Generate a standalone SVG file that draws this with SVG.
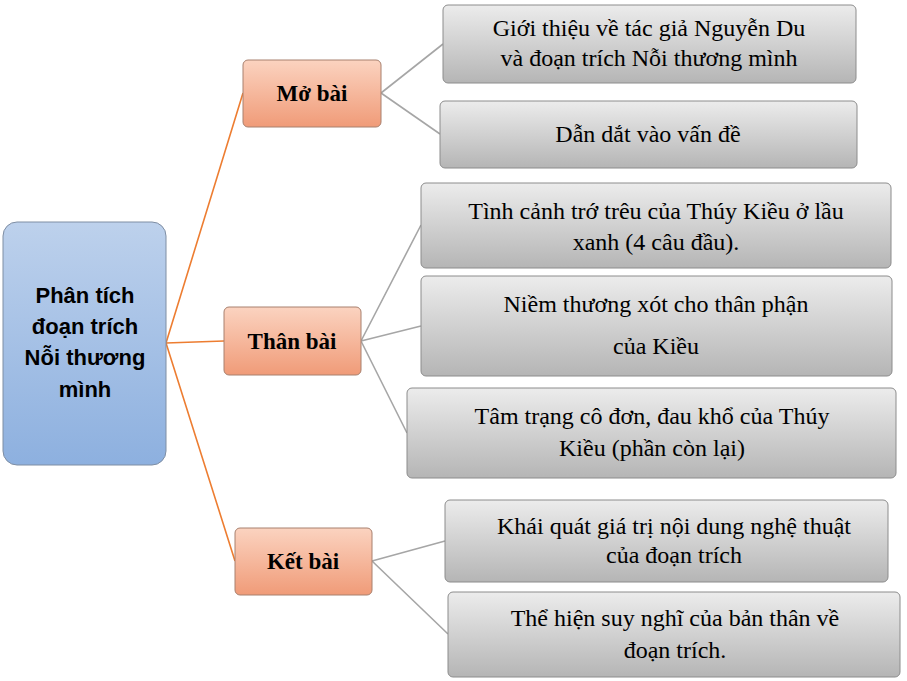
<svg xmlns="http://www.w3.org/2000/svg" width="907" height="681" viewBox="0 0 907 681">
<defs>
<linearGradient id="gb" x1="0" y1="0" x2="0" y2="1"><stop offset="0" stop-color="#bdd1ec"/><stop offset="1" stop-color="#8db0df"/></linearGradient>
<linearGradient id="go" x1="0" y1="0" x2="0" y2="1"><stop offset="0" stop-color="#fbd3c0"/><stop offset="1" stop-color="#f09b78"/></linearGradient>
<linearGradient id="gg" x1="0" y1="0" x2="0" y2="1"><stop offset="0" stop-color="#ececec"/><stop offset="1" stop-color="#b5b5b5"/></linearGradient>
</defs>
<style>
.root{fill:url(#gb);stroke:#7f8ea3;stroke-width:1}
.mid{fill:url(#go);stroke:#a8806e;stroke-width:1}
.leaf{fill:url(#gg);stroke:#8c8c8c;stroke-width:1}
.rt{font-family:"Liberation Sans",Arial,sans-serif;font-weight:bold;font-size:22px;fill:#000;text-anchor:middle}
.mt{font-family:"Liberation Serif","Times New Roman",serif;font-weight:bold;font-size:23px;fill:#000;text-anchor:middle}
.lt{font-family:"Liberation Serif","Times New Roman",serif;font-size:24px;fill:#000;text-anchor:middle}
.co{stroke:#ed7d31;stroke-width:1.6;fill:none}
.cg{stroke:#a6a6a6;stroke-width:1.6;fill:none}
</style>
<rect width="907" height="681" fill="#fff"/>
<g id="connectors">
<path class="co" d="M166 343 L243 93 M166 343 L224 341 M166 343 L235 561"/>
<path class="cg" d="M381 93 L443 44 M381 93 L440 134 M361 341 L421 225 M361 341 L421 326 M361 341 L407 433 M372 561 L445 541 M372 561 L448 634"/>
</g>
<g id="root"><rect class="root" x="3" y="222" width="163" height="243" rx="14"/>
<text class="rt" x="85" y="303">Phân tích</text><text class="rt" x="85" y="334">đoạn trích</text><text class="rt" x="85" y="365">Nỗi thương</text><text class="rt" x="85" y="397">mình</text></g>
<g id="mo"><rect class="mid" x="243" y="60" width="138" height="67" rx="5"/><text class="mt" x="312" y="101">Mở bài</text></g>
<g id="than"><rect class="mid" x="224" y="307" width="137" height="68" rx="5"/><text class="mt" x="292" y="349">Thân bài</text></g>
<g id="ket"><rect class="mid" x="235" y="528" width="137" height="67" rx="5"/><text class="mt" x="303" y="569">Kết bài</text></g>
<g id="l1"><rect class="leaf" x="443" y="5" width="413" height="78" rx="5"/><text class="lt" x="649" y="36">Giới thiệu về tác giả Nguyễn Du</text><text class="lt" x="649" y="66">và đoạn trích Nỗi thương mình</text></g>
<g id="l2"><rect class="leaf" x="440" y="101" width="417" height="67" rx="5"/><text class="lt" x="648" y="142">Dẫn dắt vào vấn đề</text></g>
<g id="l3"><rect class="leaf" x="421" y="183" width="470" height="85" rx="5"/><text class="lt" x="656" y="219">Tình cảnh trớ trêu của Thúy Kiều ở lầu</text><text class="lt" x="656" y="250">xanh (4 câu đầu).</text></g>
<g id="l4"><rect class="leaf" x="421" y="276" width="471" height="100" rx="5"/><text class="lt" x="656" y="312">Niềm thương xót cho thân phận</text><text class="lt" x="656" y="354">của Kiều</text></g>
<g id="l5"><rect class="leaf" x="407" y="388" width="489" height="90" rx="5"/><text class="lt" x="652" y="424">Tâm trạng cô đơn, đau khổ của Thúy</text><text class="lt" x="652" y="456">Kiều (phần còn lại)</text></g>
<g id="l6"><rect class="leaf" x="445" y="500" width="443" height="82" rx="5"/><text class="lt" x="674" y="534">Khái quát giá trị nội dung nghệ thuật</text><text class="lt" x="674" y="563">của đoạn trích</text></g>
<g id="l7"><rect class="leaf" x="448" y="592" width="452" height="85" rx="5"/><text class="lt" x="675" y="626">Thể hiện suy nghĩ của bản thân về</text><text class="lt" x="675" y="658">đoạn trích.</text></g>
</svg>
